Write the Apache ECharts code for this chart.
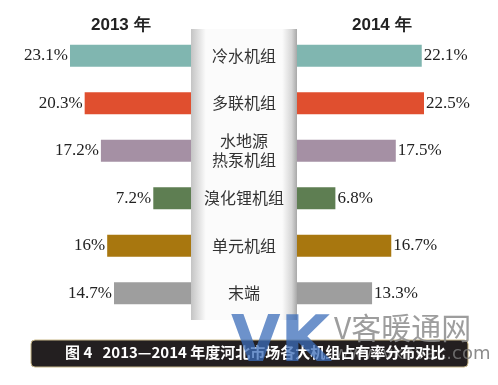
<!DOCTYPE html>
<html><head><meta charset="utf-8">
<script src="https://cdn.jsdelivr.net/npm/echarts@6/dist/echarts.min.js"></script>
<style>html,body{margin:0;padding:0;background:#fff}#c{width:498px;height:385px}</style>
</head><body><div id="c"></div>
<script>
var categories = ['冷水机组', '多联机组', '水地源\n热泵机组', '溴化锂机组', '单元机组', '末端'];
var values2013 = [23.1, 20.3, 17.2, 7.2, 16, 14.7];
var values2014 = [22.1, 22.5, 17.5, 6.8, 16.7, 13.3];
var colors = ['#80b6b0', '#e04f2f', '#a590a4', '#5e7e52', '#a8770f', '#9e9e9e'];
var titles = ['2013 年', '2014 年'];
var caption = '图 4   2013—2014 年度河北市场各大机组占有率分布对比';

var chart = echarts.init(document.getElementById('c'));
function mk(vals){ return vals.map(function(v,i){ return {value:v, itemStyle:{color:colors[i]}}; }); }
var numFont = {fontFamily:'Liberation Serif', fontSize:17, color:'#222'};
chart.setOption({
  animation:false,
  graphic:[
    {type:'rect', z:-1, shape:{x:191, y:29, width:106, height:291},
     style:{fill:new echarts.graphic.LinearGradient(0,0,1,0,[
       {offset:0,color:'#c4c4c4'},{offset:0.14,color:'#fbfbfb'},{offset:0.86,color:'#fbfbfb'},{offset:0.95,color:'#d6d6d6'},{offset:1,color:'#a8a8a8'}])}},
    {type:'text', left:91, top:17, style:{text:titles[0], font:'bold 17px "Liberation Sans", sans-serif', fill:'#222'}},
    {type:'text', left:352, top:17, style:{text:titles[1], font:'bold 17px "Liberation Sans", sans-serif', fill:'#222'}},
    {type:'rect', z:10, shape:{x:31, y:340, width:437, height:27, r:4}, style:{fill:'#231f20', stroke:'#c8b88a', lineWidth:1}},
    {type:'text', z:50, left:334, top:345, style:{text:'www.vkhvac.com', font:'18px "DejaVu Sans", sans-serif', fill:'rgba(120,120,120,0.85)'}},
    {type:'text', z:60, left:65, top:345, style:{text:caption, font:'bold 15px "Noto Sans CJK SC", sans-serif', fill:'#fff'}},
    {type:'text', z:100, left:231, top:312, style:{text:'VK', font:'bold 64px "DejaVu Sans", sans-serif', fill:'rgba(60,110,185,0.75)'}},
    {type:'text', z:100, left:334, top:313, style:{text:'V客暖通网', font:'30px "Noto Sans CJK SC", sans-serif', fill:'rgba(140,140,140,0.85)'}}
  ],
  grid:[
    {left:70, top:32, width:121, height:285},
    {left:297, top:32, width:127, height:285}
  ],
  xAxis:[
    {gridIndex:0, type:'value', inverse:true, min:0, max:23.1, show:false},
    {gridIndex:1, type:'value', min:0, max:22.5, show:false}
  ],
  yAxis:[
    {gridIndex:0, type:'category', data:categories, inverse:true, show:false},
    {gridIndex:1, type:'category', data:categories, inverse:true, position:'left',
     axisLine:{show:false}, axisTick:{show:false},
     axisLabel:{align:'center', margin:53, fontFamily:'Noto Sans CJK SC', fontSize:16, color:'#333', lineHeight:19, padding:[0,0,6,0]}}
  ],
  series:[
    {type:'bar', xAxisIndex:0, yAxisIndex:0, data:mk(values2013), barWidth:22,
     label:Object.assign({show:true, position:'left', distance:2, formatter:'{c}%'}, numFont)},
    {type:'bar', xAxisIndex:1, yAxisIndex:1, data:mk(values2014), barWidth:22,
     label:Object.assign({show:true, position:'right', distance:2, formatter:'{c}%'}, numFont)}
  ]
});
</script></body></html>
